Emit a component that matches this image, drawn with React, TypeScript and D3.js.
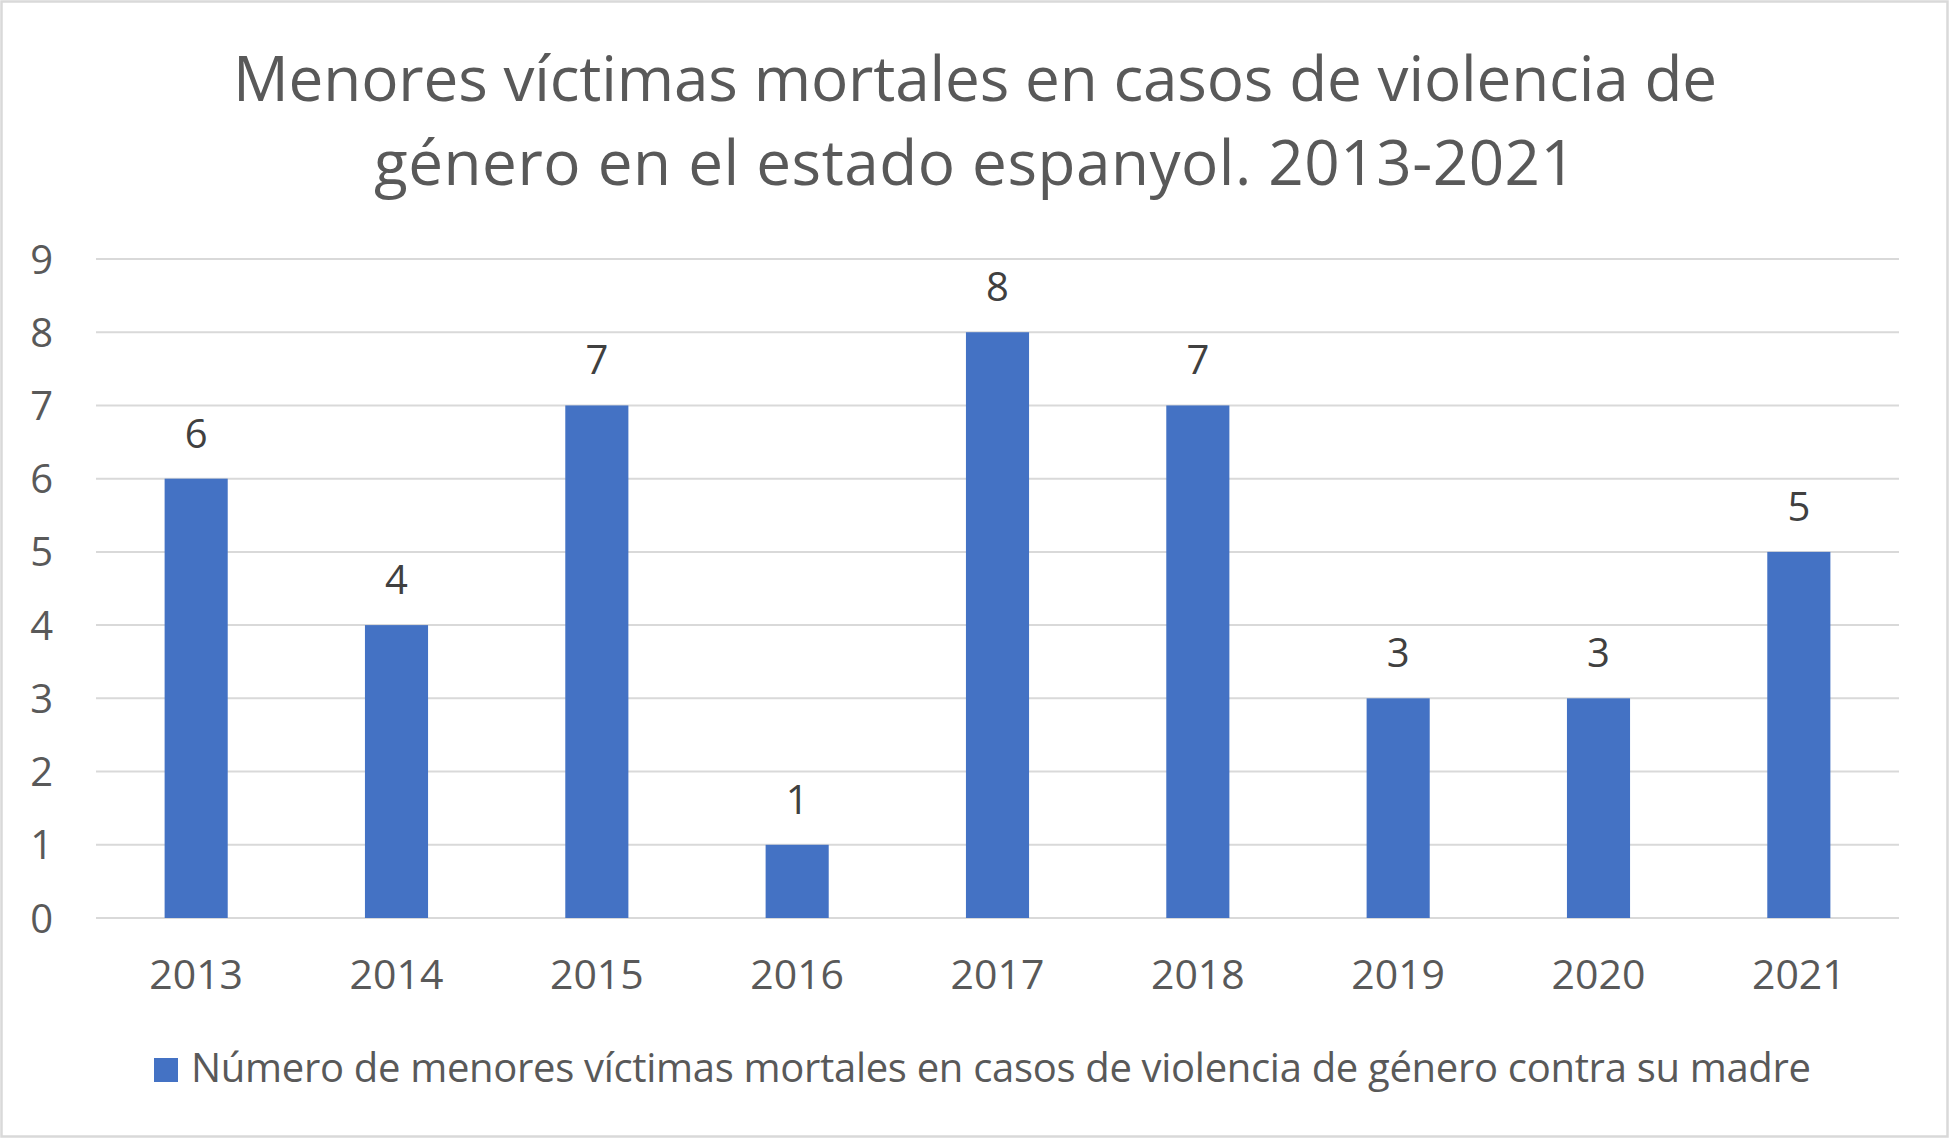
import React from 'react';
import * as d3 from 'd3';

const years: string[] = ['2013', '2014', '2015', '2016', '2017', '2018', '2019', '2020', '2021'];
const values: number[] = [6, 4, 7, 1, 8, 7, 3, 3, 5];
const yTicks: number[] = [0, 1, 2, 3, 4, 5, 6, 7, 8, 9];
const titleLines: string[] = [
  'Menores víctimas mortales en casos de violencia de',
  'género en el estado espanyol. 2013-2021',
];
const titleWidths: number[] = [1484, 1202];
const legendLabel = 'Número de menores víctimas mortales en casos de violencia de género contra su madre';

export default function App() {
  const W = 1951;
  const H = 1139;
  const left = 96;
  const right = 1899;
  const top = 259;
  const bottom = 918;
  const font = '"Open Sans", "Noto Sans", sans-serif';

  const x = d3
    .scaleBand<string>()
    .domain(years)
    .range([left, right])
    .paddingInner(0.685)
    .paddingOuter(0.3425);
  const y = d3.scaleLinear().domain([0, 9]).range([bottom, top]);

  return (
    <svg
      width={W}
      height={H}
      style={{ position: 'absolute', left: 0, top: 0, background: '#fff' }}
      fontFamily={font}
    >
      <rect x={1.5} y={1.5} width={W - 5} height={H - 4} fill="#fff" stroke="#d9d9d9" strokeWidth={2.5} />
      {titleLines.map((t, i) => (
        <text
          key={t}
          x={975}
          y={101 + i * 84}
          textAnchor="middle"
          fontSize={62}
          fill="#595959"
          textLength={titleWidths[i]}
          lengthAdjust="spacing"
        >
          {t}
        </text>
      ))}
      {yTicks.map((t) => (
        <g key={t}>
          <line x1={left} x2={right} y1={y(t)} y2={y(t)} stroke="#d9d9d9" strokeWidth={2} />
          <text x={53} y={y(t) + 14.5} textAnchor="end" fontSize={40} fill="#595959">
            {t}
          </text>
        </g>
      ))}
      {years.map((yr, i) => {
        const bx = x(yr)!;
        const bw = x.bandwidth();
        const v = values[i];
        return (
          <g key={yr}>
            <rect x={bx} y={y(v)} width={bw} height={y(0) - y(v)} fill="#4472C4" />
            <text x={bx + bw / 2} y={y(v) - 31} textAnchor="middle" fontSize={40} fill="#404040">
              {v}
            </text>
            <text x={bx + bw / 2} y={989} textAnchor="middle" fontSize={41} fill="#595959">
              {yr}
            </text>
          </g>
        );
      })}
      <rect x={154} y={1058} width={24} height={24} fill="#4472C4" />
      <text x={191} y={1082} fontSize={40} fill="#595959" textLength={1620} lengthAdjust="spacing">
        {legendLabel}
      </text>
    </svg>
  );
}
